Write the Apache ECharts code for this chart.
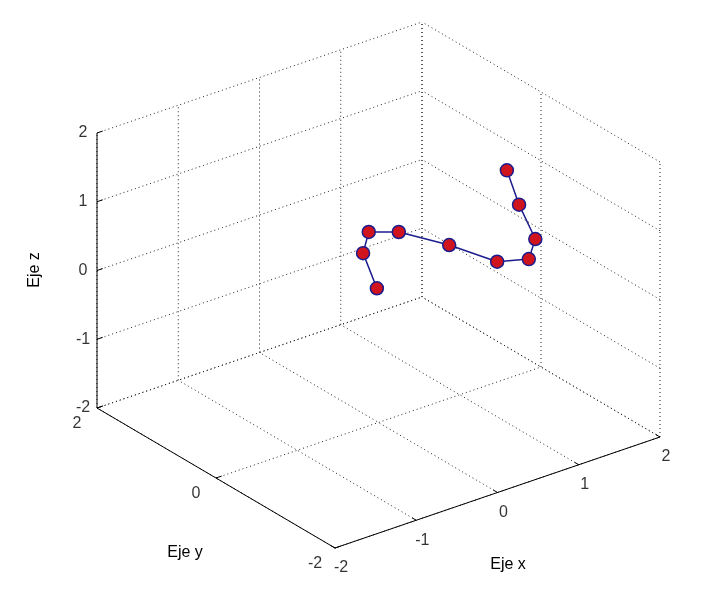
<!DOCTYPE html>
<html>
<head>
<meta charset="utf-8">
<script src="https://cdn.jsdelivr.net/npm/echarts@6/dist/echarts.min.js"></script>
<style>html,body{margin:0;padding:0;background:#fff}#chart{width:727px;height:599px}</style>
</head>
<body>
<div id="chart"></div>
<script>
// datos 3D
let xData = [-0.02, -0.19, -0.12, 0.25, 0.87, 1.46, 1.85, 1.93, 1.73, 1.58];
let yData = [0, 0, 0, 0, 0, 0, 0, 0, 0, 0];
let zData = [-0.04, 0.54, 0.82, 0.67, 0.23, -0.25, -0.37, -0.11, 0.47, 1.03];
let xTicks = [-2, -1, 0, 1, 2];
let yTicks = [-2, 0, 2];
let zTicks = [-2, -1, 0, 1, 2];

// proyeccion (vista az=-37.5, el=30) a pixeles
function proj(x, y, z) {
    return [378.5 + 81.25 * x - 59.5 * y, 285 - 27.75 * x - 35 * y - 68.75 * z];
}
function seg(arr, a, b) { arr.push(proj(a[0], a[1], a[2]), proj(b[0], b[1], b[2]), '-'); }

let grid = [], axes = [], tk = [], labels = [];
xTicks.forEach(function (t) {
    seg(grid, [t, 2, -2], [t, 2, 2]);
    seg(grid, [t, -2, -2], [t, 2, -2]);
    seg(tk, [t, -2, -2], [t, -1.93, -2]);
    let p = proj(t, -2, -2); labels.push({value: [p[0] + 6, p[1] + 20], name: String(t)});
});
yTicks.forEach(function (t) {
    seg(grid, [2, t, -2], [2, t, 2]);
    seg(grid, [-2, t, -2], [2, t, -2]);
    seg(tk, [-2, t, -2], [-1.93, t, -2]);
    let p = proj(-2, t, -2); labels.push({value: [p[0] - 20, p[1] + 16], name: String(t)});
});
zTicks.forEach(function (t) {
    seg(grid, [-2, 2, t], [2, 2, t]);
    seg(grid, [2, -2, t], [2, 2, t]);
    seg(tk, [-2, 2, t], [-1.93, 2, t]);
    let p = proj(-2, 2, t); labels.push({value: [p[0] - 14, p[1]], name: String(t)});
});
seg(axes, [-2, 2, -2], [-2, 2, 2]);
seg(axes, [-2, 2, -2], [-2, -2, -2]);
seg(axes, [-2, -2, -2], [2, -2, -2]);

let pts = xData.map(function (x, i) { return proj(x, yData[i], zData[i]); });

let option = {
    animation: false,
    grid: {left: 0, right: 0, top: 0, bottom: 0},
    xAxis: {type: 'value', min: 0, max: 727, show: false},
    yAxis: {type: 'value', min: 0, max: 599, inverse: true, show: false},
    series: [
        {type: 'line', data: grid, symbol: 'none', silent: true,
            lineStyle: {color: '#222', width: 1, type: [1, 3]}},
        {type: 'line', data: axes.concat(tk), symbol: 'none', silent: true,
            lineStyle: {color: '#000', width: 1}},
        {type: 'scatter', data: labels, symbolSize: 0,
            label: {show: true, position: 'inside', formatter: '{b}', fontFamily: 'Liberation Sans', fontSize: 16, color: '#000'}},
        {type: 'line', data: pts, symbol: 'circle', symbolSize: 13,
            lineStyle: {color: '#1c1c8f', width: 1.5},
            itemStyle: {color: '#d0141e', borderColor: '#1c1c8f', borderWidth: 1.5}}
    ],
    graphic: [
        {type: 'text', x: 35, y: 270, rotation: Math.PI / 2, style: {text: 'Eje z', align: 'center', verticalAlign: 'middle', font: '16px Liberation Sans', fill: '#000'}},
        {type: 'text', x: 185, y: 553, style: {text: 'Eje y', align: 'center', verticalAlign: 'middle', font: '16px Liberation Sans', fill: '#000'}},
        {type: 'text', x: 508, y: 565, style: {text: 'Eje x', align: 'center', verticalAlign: 'middle', font: '16px Liberation Sans', fill: '#000'}}
    ]
};
let myChart = echarts.init(document.getElementById('chart'));
myChart.setOption(option);
</script>
</body>
</html>
